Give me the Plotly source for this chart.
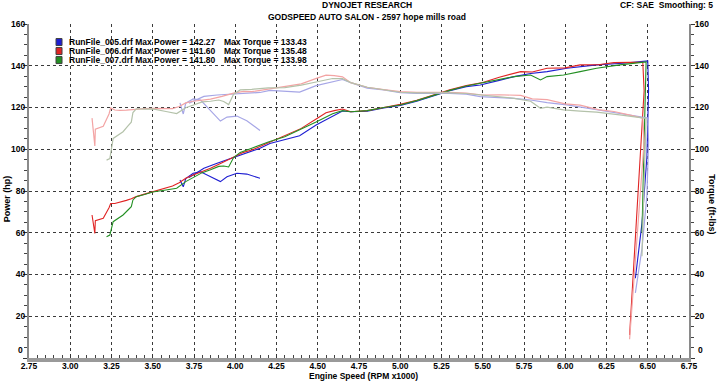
import plotly.graph_objects as go

# ---------------- data ----------------
x_ticks = [2.75, 3.00, 3.25, 3.50, 3.75, 4.00, 4.25, 4.50, 4.75, 5.00, 5.25, 5.50, 5.75, 6.00, 6.25, 6.50, 6.75]
x_tick_labels = ["2.75", "3.00", "3.25", "3.50", "3.75", "4.00", "4.25", "4.50", "4.75", "5.00", "5.25",
                 "5.50", "5.75", "6.00", "6.25", "6.50", "6.75"]
y_ticks = [0, 20, 40, 60, 80, 100, 120, 140, 160]

run_names = ["RunFile_005.drf", "RunFile_006.drf", "RunFile_007.drf"]
max_power = ["142.27", "141.60", "141.80"]
max_torque = ["133.43", "135.48", "133.98"]

# Run 005 (blue) - short first branch
rpm_005a = [3.665, 3.685, 3.70, 3.745, 3.79, 3.85, 3.91, 3.95, 4.01, 4.07, 4.15]
hp_005a = [85.3, 82.0, 86.0, 88.5, 89.2, 86.8, 84.5, 86.8, 88.5, 88.1, 86.1]
tq_005a = [122.2, 116.9, 122.1, 124.1, 123.6, 118.4, 113.5, 115.4, 115.9, 113.7, 109.0]

# Run 005 (blue) - main pull
rpm_005 = [3.72, 3.745, 3.81, 3.89, 3.99, 4.07, 4.15, 4.21, 4.29, 4.39, 4.49, 4.595, 4.65, 4.70, 4.80,
           4.90, 5.00, 5.10, 5.20, 5.30, 5.40, 5.485, 5.60, 5.69, 5.79, 5.89, 6.01, 6.19, 6.35, 6.50,
           6.505, 6.495, 6.465, 6.425]
hp_005 = [86.5, 87.7, 90.9, 93.3, 96.0, 98.3, 100.5, 102.8, 104.5, 106.5, 111.6, 116.0, 118.3, 118.0, 118.2,
          119.8, 121.0, 123.0, 125.5, 128.0, 130.0, 130.8, 133.0, 134.8, 136.3, 137.2, 138.8, 140.4, 141.2, 142.3,
          128.4, 96.4, 64.5, 38.2]
tq_005 = [122.1, 123.0, 125.3, 126.0, 126.4, 126.8, 127.2, 128.2, 127.9, 127.4, 130.5, 132.6, 133.4, 131.9, 129.3,
          128.4, 127.1, 126.7, 126.8, 126.8, 126.4, 125.2, 124.7, 124.4, 123.6, 122.3, 121.3, 119.1, 116.8, 115.0,
          103.7, 77.9, 52.4, 31.2]

# Run 006 (red)
rpm_006 = [3.132, 3.149, 3.152, 3.20, 3.235, 3.245, 3.27, 3.30, 3.34, 3.37, 3.40, 3.45, 3.50, 3.56, 3.62,
           3.66, 3.70, 3.745, 3.80, 3.85, 3.92, 3.99, 4.05, 4.10, 4.20, 4.30, 4.40, 4.50, 4.55, 4.60,
           4.65, 4.70, 4.80, 4.90, 5.00, 5.10, 5.20, 5.30, 5.40, 5.50, 5.60, 5.73, 5.80, 5.89, 6.00,
           6.09, 6.20, 6.295, 6.40, 6.47, 6.478, 6.39]
hp_006 = [68.5, 59.7, 65.8, 66.9, 72.0, 74.0, 74.0, 74.5, 75.5, 76.3, 77.3, 78.5, 79.7, 81.0, 82.4,
          84.0, 86.1, 87.7, 89.3, 90.9, 93.5, 96.4, 98.5, 99.6, 103.0, 106.5, 110.0, 115.0, 117.5, 118.5,
          119.3, 118.0, 118.5, 120.0, 121.5, 123.5, 126.0, 128.5, 130.5, 132.0, 134.5, 137.2, 137.0, 138.8, 139.0,
          140.4, 140.5, 141.5, 141.6, 141.6, 128.0, 11.0]
tq_006 = [114.9, 101.6, 109.6, 111.0, 116.9, 119.8, 118.8, 118.6, 118.7, 118.9, 119.4, 119.5, 119.6, 119.5, 119.5,
          120.5, 122.2, 123.0, 123.4, 124.0, 125.3, 126.9, 127.7, 127.6, 128.8, 130.1, 131.3, 134.2, 135.5, 135.3,
          134.7, 131.9, 129.7, 128.6, 127.6, 127.2, 127.3, 127.3, 126.9, 126.0, 126.1, 125.8, 124.1, 123.8, 121.7,
          121.1, 119.0, 118.1, 116.2, 114.9, 103.8, 9.0]

# Run 007 (green)
rpm_007 = [3.22, 3.24, 3.26, 3.29, 3.32, 3.35, 3.37, 3.38, 3.40, 3.45, 3.50, 3.58, 3.645, 3.70, 3.745,
           3.80, 3.85, 3.90, 3.93, 3.96, 3.99, 4.03, 4.10, 4.20, 4.30, 4.40, 4.49, 4.59, 4.65, 4.70,
           4.80, 4.90, 5.00, 5.10, 5.20, 5.30, 5.40, 5.485, 5.60, 5.69, 5.79, 5.85, 5.89, 5.99, 6.09,
           6.19, 6.33, 6.49, 6.48, 6.465]
hp_007 = [58.1, 58.9, 65.3, 66.9, 68.5, 70.9, 72.5, 75.7, 77.3, 78.3, 79.5, 80.5, 81.3, 84.5, 86.5,
          88.8, 90.2, 91.8, 92.0, 91.5, 96.0, 98.5, 100.5, 103.5, 106.0, 109.5, 113.0, 117.0, 118.5, 118.0,
          118.5, 120.0, 121.2, 123.3, 125.8, 128.2, 130.3, 131.6, 133.5, 134.8, 135.6, 133.2, 134.8, 135.6, 137.2,
          138.8, 140.4, 141.8, 110.0, 60.0]
tq_007 = [94.8, 95.5, 105.2, 106.8, 108.4, 111.2, 113.0, 117.6, 119.4, 119.2, 119.3, 118.1, 117.1, 119.9, 121.3,
          122.7, 123.0, 123.6, 122.9, 121.4, 126.4, 128.4, 128.7, 129.4, 129.5, 130.7, 132.2, 133.9, 133.8, 131.9,
          129.7, 128.6, 127.3, 127.0, 127.1, 127.0, 126.7, 126.0, 125.2, 124.4, 123.0, 119.6, 120.2, 118.9, 118.3,
          117.8, 116.5, 114.8, 89.2, 48.7]

# ---------------- styling ----------------
power_colors = ["#1e1ed2", "#e02424", "#238f23"]
torque_colors = ["#a6a6e6", "#f3a4a4", "#b4c2aa"]
FONT = "Liberation Sans, Arial, sans-serif"

fig = go.Figure()

rpm_005_all = rpm_005a + [None] + rpm_005
hp_005_all = hp_005a + [None] + hp_005
tq_005_all = tq_005a + [None] + tq_005

runs = [
    (rpm_005_all, hp_005_all, tq_005_all),
    (rpm_006, hp_006, tq_006),
    (rpm_007, hp_007, tq_007),
]

# torque (right axis) first, fainter
for i, (r, h, t) in enumerate(runs):
    fig.add_trace(go.Scatter(x=r, y=t, mode="lines", yaxis="y2", connectgaps=False,
                             line=dict(color=torque_colors[i], width=1.2),
                             name=run_names[i] + " torque", showlegend=False))
for i, (r, h, t) in enumerate(runs):
    fig.add_trace(go.Scatter(x=r, y=h, mode="lines", connectgaps=False,
                             line=dict(color=power_colors[i], width=1.1),
                             name=run_names[i] + " power", showlegend=False))

tickfont = dict(family=FONT, size=8.5, color="#000000", weight="bold")
y_labels = ["" if v == 0 else str(v) for v in y_ticks]  # the 0 label is placed a little higher below

fig.update_layout(
    template="none",
    width=717, height=381,
    margin=dict(l=29, r=28, t=24, b=23, autoexpand=False),
    paper_bgcolor="white", plot_bgcolor="white",
    showlegend=False,
    xaxis=dict(range=[2.75, 6.75], tickvals=x_ticks, ticktext=x_tick_labels, automargin=False,
               showgrid=True, gridcolor="#3a3a3a", griddash="dot", gridwidth=1,
               zeroline=False, showline=True, linecolor="#9a9a9a", linewidth=4,
               ticks="inside", ticklen=4, tickcolor="#333333", tickwidth=1, ticklabelstandoff=-3,
               minor=dict(dtick=0.05, ticks="inside", ticklen=3, tickcolor="#444444", showgrid=False),
               tickfont=tickfont, fixedrange=True),
    yaxis=dict(range=[0, 160], tickvals=y_ticks, ticktext=y_labels, showgrid=True, gridcolor="#3a3a3a",
               griddash="dot", gridwidth=1, zeroline=False, showline=True, linecolor="#8a8a8a", linewidth=2,
               ticks="outside", ticklen=4, tickcolor="#333333", automargin=False, ticklabelstandoff=-4,
               minor=dict(dtick=5, ticks="outside", ticklen=3, tickcolor="#444444", showgrid=False),
               tickfont=tickfont, fixedrange=True),
    yaxis2=dict(range=[0, 160], tickvals=y_ticks, ticktext=y_labels, overlaying="y", side="right",
                showgrid=False, zeroline=False, showline=True, linecolor="#8a8a8a", linewidth=2,
                automargin=False, ticks="outside", ticklen=4, tickcolor="#333333", ticklabelstandoff=-2,
                minor=dict(dtick=5, ticks="outside", ticklen=3, tickcolor="#444444", showgrid=False),
                tickfont=tickfont, fixedrange=True),
)

ann_font = dict(family=FONT, size=9, color="#000000", weight="bold")
xt_font = dict(family=FONT, size=8.5, color="#000000", weight="bold")
leg_font = dict(family=FONT, size=8.5, color="#000000", weight="bold")
title_font = dict(family=FONT, size=8.5, color="#000000", weight="bold")
annotations = [
    dict(text="DYNOJET RESEARCH", x=0.512, y=1.056, xref="paper", yref="paper",
         xanchor="center", yanchor="middle", showarrow=False, font=title_font),
    dict(text="GODSPEED AUTO SALON - 2597 hope mills road", x=0.512, y=1.022, xref="paper", yref="paper",
         xanchor="center", yanchor="middle", showarrow=False, font=title_font),
    dict(text="CF: SAE&nbsp;&nbsp;Smoothing: 5", x=1.040, y=1.056, xref="paper", yref="paper",
         xanchor="right", yanchor="middle", showarrow=False, font=title_font),
    dict(text="Engine Speed (RPM x1000)", x=0.507, y=-0.0525, xref="paper", yref="paper",
         xanchor="center", yanchor="middle", showarrow=False, font=xt_font),
    dict(text="Power (hp)", x=-0.033, y=0.476, xref="paper", yref="paper", textangle=-90,
         xanchor="center", yanchor="middle", showarrow=False, font=ann_font),
    dict(text="Torque (ft-lbs)", x=1.035, y=0.46, xref="paper", yref="paper", textangle=90,
         xanchor="center", yanchor="middle", showarrow=False, font=ann_font),
    dict(text=str(y_ticks[0]), x=-0.0065, y=0.025, xref="paper", yref="paper",
         xanchor="right", yanchor="middle", showarrow=False, font=tickfont),
    dict(text=str(y_ticks[0]), x=1.0099, y=0.025, xref="paper", yref="paper",
         xanchor="left", yanchor="middle", showarrow=False, font=tickfont),
]
legend_y = [0.946, 0.919, 0.892]
shapes = []
for i in range(3):
    annotations.append(dict(text=f"{run_names[i]} Max Power = {max_power[i]}", x=0.0572, y=legend_y[i],
                            xref="paper", yref="paper", xanchor="left", yanchor="middle",
                            showarrow=False, font=leg_font))
    annotations.append(dict(text=f"Max Torque = {max_torque[i]}", x=0.2923, y=legend_y[i],
                            xref="paper", yref="paper", xanchor="left", yanchor="middle",
                            showarrow=False, font=leg_font))
    shapes.append(dict(type="rect", xref="paper", yref="paper", xsizemode="pixel", ysizemode="pixel",
                       xanchor=0.0455, yanchor=legend_y[i], x0=-3, x1=3, y0=-3.5, y1=3.5,
                       fillcolor=power_colors[i], line=dict(color="#404040", width=1)))
fig.update_layout(annotations=annotations, shapes=shapes)

fig.write_html("out.html", config={"displayModeBar": False},
               post_script="document.body.style.margin='0px';")
